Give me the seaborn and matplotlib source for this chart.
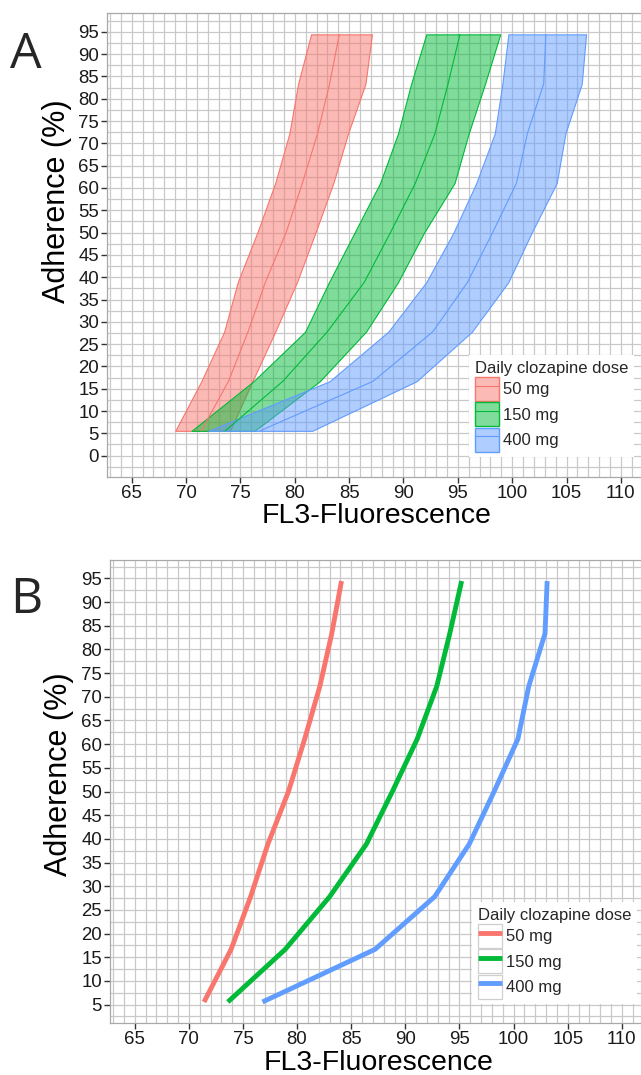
import numpy as np
import pandas as pd
import matplotlib
matplotlib.use("Agg")
import matplotlib.pyplot as plt
import seaborn as sns
from matplotlib.patches import Patch
from matplotlib.lines import Line2D
from matplotlib.ticker import MultipleLocator
from matplotlib.colors import to_rgba

# ---------------- data ----------------
adherence = [5.56, 16.67, 27.78, 38.89, 50.0, 61.11, 72.22, 83.33, 94.44]
doses = ["50 mg", "150 mg", "400 mg"]
colors = ["#F8766D", "#00BA38", "#619CFF"]

median_50 = [71.4, 73.9, 75.7, 77.3, 79.2, 80.7, 82.1, 83.2, 84.1]
lower_50 = [69.0, 71.4, 73.5, 74.75, 76.55, 78.2, 79.5, 80.3, 81.5]
upper_50 = [74.05, 76.1, 78.2, 80.2, 81.9, 83.55, 84.9, 86.5, 87.1]

median_150 = [73.6, 78.9, 83.0, 86.4, 88.8, 91.1, 92.9, 94.1, 95.2]
lower_150 = [70.5, 76.2, 80.95, 83.15, 85.5, 87.85, 89.5, 90.7, 92.1]
upper_150 = [76.3, 82.3, 86.55, 89.5, 91.9, 94.7, 96.0, 97.5, 98.9]

median_400 = [76.8, 87.2, 92.7, 95.9, 98.2, 100.4, 101.4, 102.9, 103.1]
lower_400 = [72.05, 83.2, 88.6, 92.1, 94.6, 96.7, 98.4, 99.1, 99.65]
upper_400 = [81.6, 91.2, 96.3, 99.65, 101.8, 104.1, 104.9, 106.4, 106.8]

x_ticks = [65, 70, 75, 80, 85, 90, 95, 100, 105, 110]
y_ticks_A = [0, 5, 10, 15, 20, 25, 30, 35, 40, 45, 50, 55, 60, 65, 70, 75, 80, 85, 90, 95]
y_ticks_B = [5, 10, 15, 20, 25, 30, 35, 40, 45, 50, 55, 60, 65, 70, 75, 80, 85, 90, 95]

medians = [median_50, median_150, median_400]
lowers = [lower_50, lower_150, lower_400]
uppers = [upper_50, upper_150, upper_400]

rows = []
for d, m, lo, hi in zip(doses, medians, lowers, uppers):
    for a, mv, lv, hv in zip(adherence, m, lo, hi):
        rows.append({"dose": d, "adh": a, "median": mv, "lo": lv, "hi": hv})
df = pd.DataFrame(rows)
palette = dict(zip(doses, colors))

# ---------------- style ----------------
sns.set_theme(style="white")
plt.rcParams["font.family"] = ["Liberation Sans", "DejaVu Sans"]

W, H = 641, 1075
fig = plt.figure(figsize=(W / 100, H / 100), dpi=100)
fig.patch.set_facecolor("white")

axA = fig.add_axes([107.3 / W, 1 - 476.7 / H, (645.3 - 107.3) / W, (476.7 - 13.3) / H])
axB = fig.add_axes([110.4 / W, 1 - 1023 / H, (646.2 - 110.4) / W, (1023 - 560) / H])

GRID = "#c9c9c9"


def style_axis(ax, yticks, ylim, ylab_xy):
    ax.set_facecolor("white")
    ax.set_xlim(62.75, 112.25)
    ax.set_ylim(*ylim)
    ax.set_xticks(x_ticks)
    ax.set_yticks(yticks)
    ax.xaxis.set_minor_locator(MultipleLocator(1))
    ax.yaxis.set_minor_locator(MultipleLocator(2.5))
    ax.grid(which="both", color=GRID, lw=0.9)
    ax.set_axisbelow(True)
    for s in ax.spines.values():
        s.set_color("#a8a8a8")
        s.set_linewidth(0.9)
    ax.tick_params(which="major", length=4, width=1.0, color="#333333",
                   labelsize=13.4, labelcolor="#1a1a1a", pad=2, direction="out",
                   bottom=True, left=True)
    ax.tick_params(which="minor", length=0)
    ax.set_xlabel("FL3-Fluorescence", fontsize=20.5, color="black", labelpad=1)
    ax.set_ylabel("Adherence (%)", fontsize=22, color="black")
    ax.yaxis.set_label_coords(*ylab_xy)


def make_legend(ax, handles, anchor_px):
    leg = ax.legend(handles, doses, title="Daily clozapine dose", loc="upper left",
                    bbox_to_anchor=(anchor_px[0] / W, 1 - anchor_px[1] / H),
                    bbox_transform=fig.transFigure, frameon=True, fontsize=12,
                    title_fontsize=12, handlelength=1.45, handleheight=1.83,
                    labelspacing=0.08, handletextpad=0.25, borderpad=0.35,
                    borderaxespad=0, alignment="left", fancybox=False)
    fr = leg.get_frame()
    fr.set_facecolor("white")
    fr.set_edgecolor("none")
    fr.set_alpha(1)
    return leg


# ---------------- panel A ----------------
for d, c in zip(doses, colors):
    sub = df[df["dose"] == d]
    axA.fill_betweenx(sub["adh"], sub["lo"], sub["hi"], facecolor=to_rgba(c, 0.5),
                      edgecolor=c, lw=0.8, zorder=2)
sns.lineplot(data=df, x="median", y="adh", hue="dose", palette=palette,
             estimator=None, sort=False, lw=0.8, ax=axA, legend=False, zorder=3)
style_axis(axA, y_ticks_A, (-4.72, 99.16), ((72 - 107.3) / 538.0, (476.7 - 201) / 463.4))

handlesA = [(Patch(facecolor=to_rgba(c, 0.5), edgecolor=c, lw=1.0),
             Line2D([], [], color=c, lw=0.8)) for c in colors]
make_legend(axA, handlesA, (469, 355))

# ---------------- panel B ----------------
sns.lineplot(data=df, x="median", y="adh", hue="dose", palette=palette,
             estimator=None, sort=False, lw=3.5, ax=axB, legend=False, zorder=3,
             solid_capstyle="butt")
style_axis(axB, y_ticks_B, (1.12, 98.88), ((74 - 110.4) / 535.8, (1023 - 774) / 463.0))

handlesB = [(Patch(facecolor="white", edgecolor="#cfcfcf", lw=0.9),
             Line2D([], [], color=c, lw=3.5, solid_capstyle="butt")) for c in colors]
make_legend(axB, handlesB, (472, 902))

# ---------------- panel letters ----------------
fig.text(10 / W, 1 - 55 / H, "A", fontsize=36, ha="left", va="center",
         family=["Open Sans", "DejaVu Sans"])
fig.text(10 / W, 1 - 600 / H, "B", fontsize=36, ha="left", va="center",
         family=["Open Sans", "DejaVu Sans"])

fig.savefig("out.png", dpi=100, facecolor="white")
